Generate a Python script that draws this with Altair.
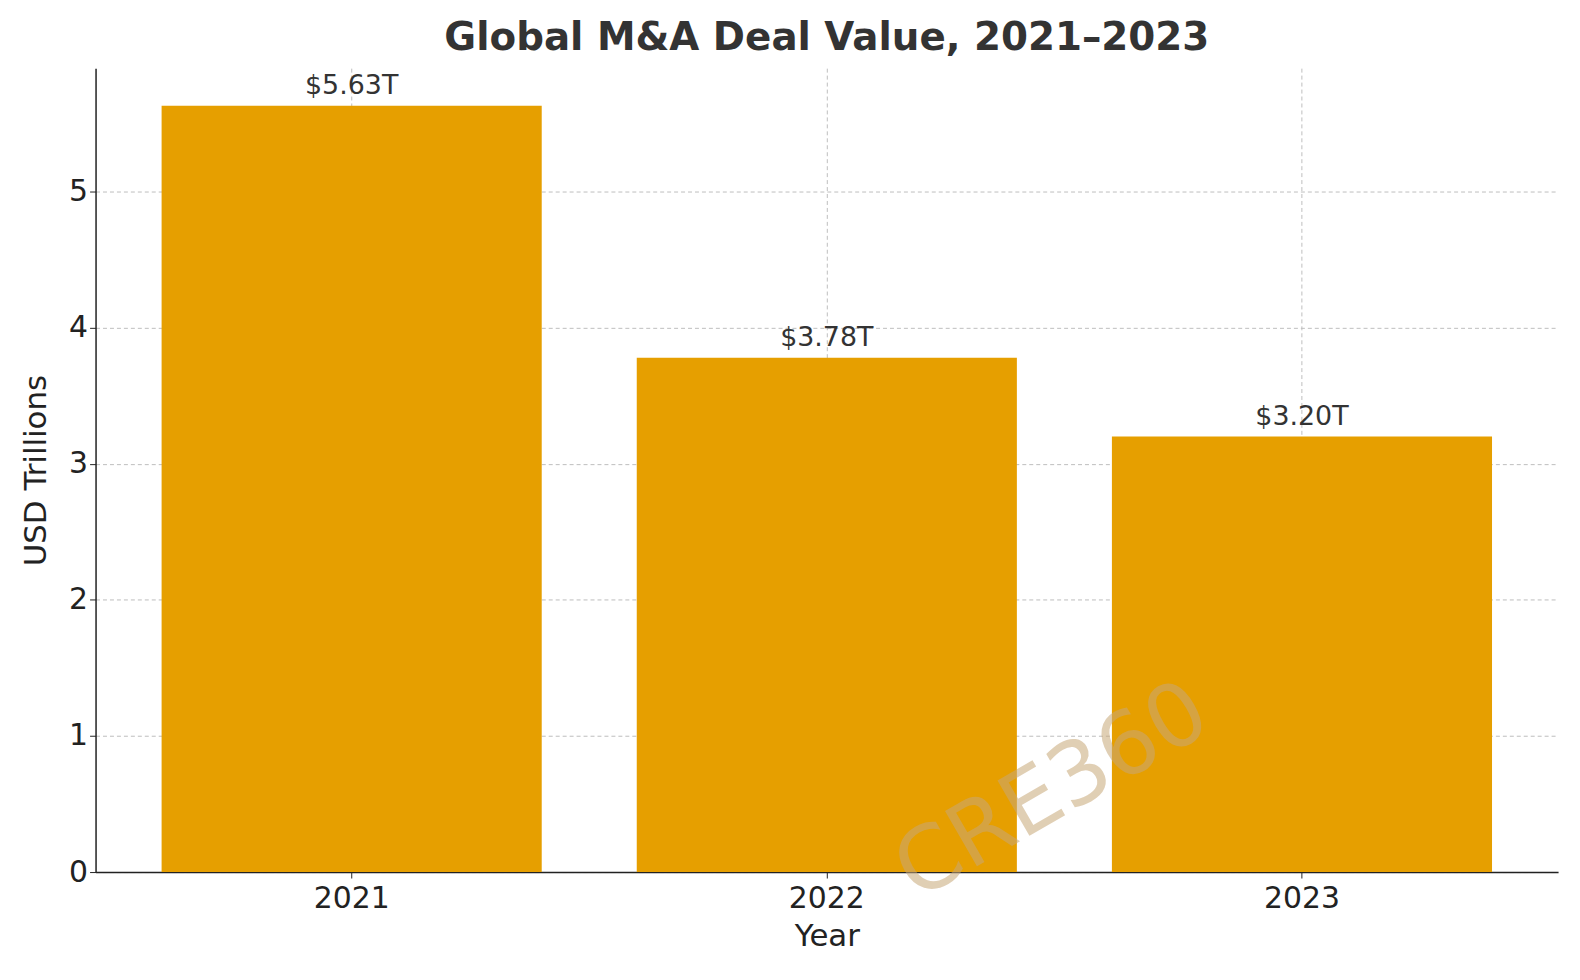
import altair as alt
import pandas as pd

years = ["2021", "2022", "2023"]
values = [5.63, 3.78, 3.20]
labels = ["$5.63T", "$3.78T", "$3.20T"]

df = pd.DataFrame({"year": years, "value": values, "label": labels})

FONT = "DejaVu Sans"

axis_style = dict(grid=True, gridDash=[4, 3], gridColor="#bdbdbd", tickColor="#222",
                  domainColor="#222", domainWidth=1.5, labelFontSize=30, titleFontSize=31,
                  labelColor="#222", titleColor="#222", titleFontWeight="normal", tickSize=6)

base = alt.Chart(df).encode(
    x=alt.X(
        "year:N",
        title="Year",
        scale=alt.Scale(paddingInner=0.2, paddingOuter=0.139),
        axis=alt.Axis(labelAngle=0, bandPosition=0.5, labelPadding=6, titlePadding=8, **axis_style),
    ),
    y=alt.Y(
        "value:Q",
        title="USD Trillions",
        scale=alt.Scale(domain=[0, 5.907], nice=False),
        axis=alt.Axis(values=[0, 1, 2, 3, 4, 5], titlePadding=16, **axis_style),
    ),
)

bars = base.mark_bar(color="#e69f00")
text = base.mark_text(dy=-20, fontSize=27, color="#333", font=FONT).encode(text="label:N")

watermark = alt.Chart(pd.DataFrame({"t": ["CRE360"]})).mark_text(
    angle=330, fontSize=88, color="#c8a878", opacity=0.55, font=FONT
).encode(x=alt.value(962), y=alt.value(728), text="t:N")

chart = (bars + text + watermark).properties(
    width=1470,
    height=808,
    autosize="none",
    padding={"left": 88, "top": 58, "right": 14, "bottom": 100},
    title=alt.TitleParams("Global M&A Deal Value, 2021–2023", fontSize=39,
                          fontWeight="bold", color="#333", font=FONT, offset=10),
).configure(font=FONT).configure_view(stroke=None)

chart.save("out.html", embed_options={"renderer": "svg", "actions": False})
